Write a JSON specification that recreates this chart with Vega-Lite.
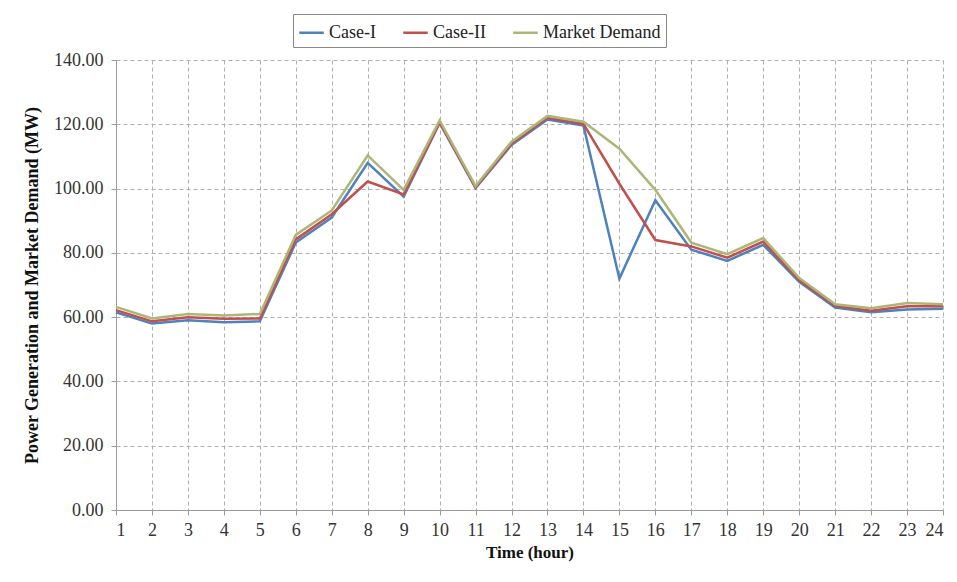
{
  "$schema": "https://vega.github.io/schema/vega-lite/v6.json",
  "autosize": "none",
  "width": 827,
  "height": 450,
  "padding": {"left": 116, "top": 60, "right": 14, "bottom": 72},
  "background": "white",
  "config": {
    "font": "Liberation Serif",
    "view": {"stroke": null},
    "axis": {
      "labelFont": "Liberation Serif",
      "titleFont": "Liberation Serif",
      "labelColor": "#333333",
      "titleColor": "#111111",
      "domainColor": "#9a9a9a",
      "tickColor": "#9a9a9a",
      "gridColor": "#b0b0b0",
      "gridDash": [4, 3],
      "labelFontSize": 18,
      "titleFontSize": 17,
      "titleFontWeight": "bold"
    }
  },
  "data": {
    "values": [
      {"hour": 1, "series": "Case-I", "mw": 61.5}, {"hour": 1, "series": "Case-II", "mw": 62.2}, {"hour": 1, "series": "Market Demand", "mw": 63.2},
      {"hour": 2, "series": "Case-I", "mw": 58.0}, {"hour": 2, "series": "Case-II", "mw": 58.7}, {"hour": 2, "series": "Market Demand", "mw": 59.6},
      {"hour": 3, "series": "Case-I", "mw": 59.0}, {"hour": 3, "series": "Case-II", "mw": 60.0}, {"hour": 3, "series": "Market Demand", "mw": 61.0},
      {"hour": 4, "series": "Case-I", "mw": 58.4}, {"hour": 4, "series": "Case-II", "mw": 59.5}, {"hour": 4, "series": "Market Demand", "mw": 60.5},
      {"hour": 5, "series": "Case-I", "mw": 58.7}, {"hour": 5, "series": "Case-II", "mw": 59.6}, {"hour": 5, "series": "Market Demand", "mw": 61.0},
      {"hour": 6, "series": "Case-I", "mw": 83.2}, {"hour": 6, "series": "Case-II", "mw": 84.2}, {"hour": 6, "series": "Market Demand", "mw": 85.6},
      {"hour": 7, "series": "Case-I", "mw": 91.0}, {"hour": 7, "series": "Case-II", "mw": 92.0}, {"hour": 7, "series": "Market Demand", "mw": 93.2},
      {"hour": 8, "series": "Case-I", "mw": 108.0}, {"hour": 8, "series": "Case-II", "mw": 102.2}, {"hour": 8, "series": "Market Demand", "mw": 110.3},
      {"hour": 9, "series": "Case-I", "mw": 97.5}, {"hour": 9, "series": "Case-II", "mw": 98.2}, {"hour": 9, "series": "Market Demand", "mw": 99.6},
      {"hour": 10, "series": "Case-I", "mw": 120.4}, {"hour": 10, "series": "Case-II", "mw": 120.6}, {"hour": 10, "series": "Market Demand", "mw": 121.2},
      {"hour": 11, "series": "Case-I", "mw": 100.2}, {"hour": 11, "series": "Case-II", "mw": 100.4}, {"hour": 11, "series": "Market Demand", "mw": 100.8},
      {"hour": 12, "series": "Case-I", "mw": 113.6}, {"hour": 12, "series": "Case-II", "mw": 114.0}, {"hour": 12, "series": "Market Demand", "mw": 114.6},
      {"hour": 13, "series": "Case-I", "mw": 121.5}, {"hour": 13, "series": "Case-II", "mw": 122.0}, {"hour": 13, "series": "Market Demand", "mw": 122.6},
      {"hour": 14, "series": "Case-I", "mw": 119.6}, {"hour": 14, "series": "Case-II", "mw": 120.1}, {"hour": 14, "series": "Market Demand", "mw": 120.8},
      {"hour": 15, "series": "Case-I", "mw": 72.0}, {"hour": 15, "series": "Case-II", "mw": 101.5}, {"hour": 15, "series": "Market Demand", "mw": 112.4},
      {"hour": 16, "series": "Case-I", "mw": 96.4}, {"hour": 16, "series": "Case-II", "mw": 84.0}, {"hour": 16, "series": "Market Demand", "mw": 99.6},
      {"hour": 17, "series": "Case-I", "mw": 81.0}, {"hour": 17, "series": "Case-II", "mw": 82.0}, {"hour": 17, "series": "Market Demand", "mw": 83.2},
      {"hour": 18, "series": "Case-I", "mw": 77.5}, {"hour": 18, "series": "Case-II", "mw": 78.5}, {"hour": 18, "series": "Market Demand", "mw": 79.6},
      {"hour": 19, "series": "Case-I", "mw": 82.5}, {"hour": 19, "series": "Case-II", "mw": 83.5}, {"hour": 19, "series": "Market Demand", "mw": 84.6},
      {"hour": 20, "series": "Case-I", "mw": 71.0}, {"hour": 20, "series": "Case-II", "mw": 71.5}, {"hour": 20, "series": "Market Demand", "mw": 72.2},
      {"hour": 21, "series": "Case-I", "mw": 63.0}, {"hour": 21, "series": "Case-II", "mw": 63.5}, {"hour": 21, "series": "Market Demand", "mw": 64.0},
      {"hour": 22, "series": "Case-I", "mw": 61.5}, {"hour": 22, "series": "Case-II", "mw": 62.0}, {"hour": 22, "series": "Market Demand", "mw": 62.8},
      {"hour": 23, "series": "Case-I", "mw": 62.4}, {"hour": 23, "series": "Case-II", "mw": 63.4}, {"hour": 23, "series": "Market Demand", "mw": 64.4},
      {"hour": 24, "series": "Case-I", "mw": 62.6}, {"hour": 24, "series": "Case-II", "mw": 63.4}, {"hour": 24, "series": "Market Demand", "mw": 64.0}
    ]
  },
  "mark": {"type": "line", "strokeWidth": 2.5},
  "encoding": {
    "x": {
      "field": "hour",
      "type": "quantitative",
      "scale": {"domain": [1, 24], "nice": false, "zero": false},
      "axis": {
        "title": "Time (hour)",
        "values": [1, 2, 3, 4, 5, 6, 7, 8, 9, 10, 11, 12, 13, 14, 15, 16, 17, 18, 19, 20, 21, 22, 23, 24],
        "format": "d",
        "labelPadding": 6,
        "tickSize": 5,
        "titlePadding": 5
      }
    },
    "y": {
      "field": "mw",
      "type": "quantitative",
      "scale": {"domain": [0, 140], "nice": false},
      "axis": {
        "title": "Power Generation and Market Demand (MW)",
        "titleFontSize": 18,
        "values": [0, 20, 40, 60, 80, 100, 120, 140],
        "format": ".2f",
        "tickSize": 5,
        "labelPadding": 8,
        "titlePadding": 12
      }
    },
    "color": {
      "field": "series",
      "type": "nominal",
      "scale": {
        "domain": ["Case-I", "Case-II", "Market Demand"],
        "range": ["#4f81bd", "#c0504d", "#adb676"]
      },
      "legend": {
        "title": null,
        "orient": "none",
        "legendX": 177,
        "legendY": -46,
        "direction": "horizontal",
        "symbolType": "stroke",
        "symbolSize": 600,
        "symbolStrokeWidth": 2.5,
        "labelFont": "Liberation Serif",
        "labelFontSize": 18,
        "labelColor": "#222222",
        "columnPadding": 22,
        "strokeColor": "#888888",
        "padding": 5
      }
    },
    "order": {"field": "series", "sort": "descending"}
  }
}
